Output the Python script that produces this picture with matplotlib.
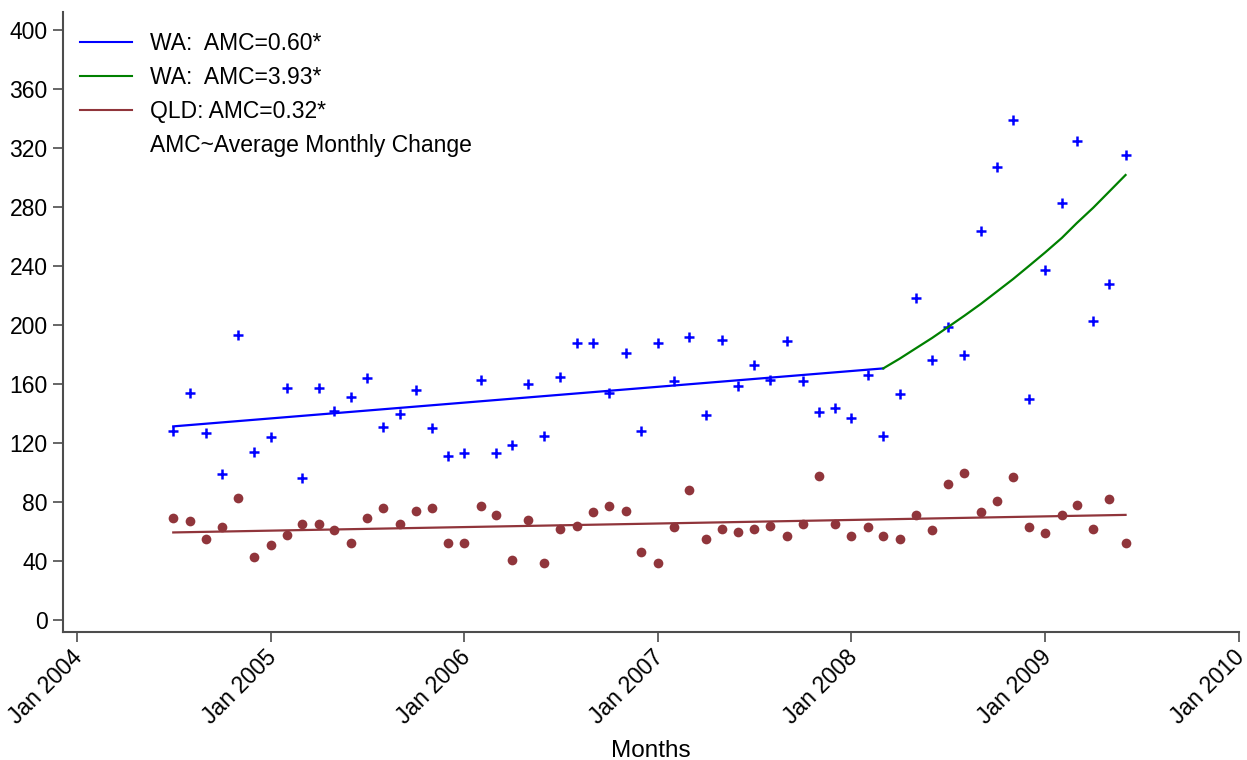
import pandas as pd
import matplotlib
matplotlib.use('Agg')
import matplotlib.pyplot as plt
import matplotlib.dates as mdates
import matplotlib.transforms as mtransforms
from matplotlib.lines import Line2D

plt.rcParams['font.family'] = ['Liberation Sans', 'DejaVu Sans']

# monthly observations, Jul 2004 - Jun 2009
months = pd.date_range('2004-07-01', periods=60, freq='MS')

wa = [128, 154, 127, 99, 193, 114, 124, 157, 96, 157,
      142, 151, 164, 131, 140, 156, 130, 111, 113, 163,
      113, 119, 160, 125, 165, 188, 188, 154, 181, 128,
      188, 162, 192, 139, 190, 159, 173, 163, 189, 162,
      141, 144, 137, 166, 125, 153, 218, 176, 199, 180,
      264, 307, 339, 150, 237, 283, 325, 203, 228, 315]

qld = [69, 67, 55, 63, 83, 43, 51, 58, 65, 65,
       61, 52, 69, 76, 65, 74, 76, 52, 52, 77,
       71, 41, 68, 39, 62, 64, 73, 77, 74, 46,
       39, 63, 88, 55, 62, 60, 62, 64, 57, 65,
       98, 65, 57, 63, 57, 55, 71, 61, 92, 100,
       73, 81, 97, 63, 59, 71, 78, 62, 82, 52]

# trend lines
wa_trend1_dates = pd.to_datetime(['2004-07-01', '2008-03-01'])
wa_trend1 = [131.3, 170.6]

wa_trend2_dates = pd.date_range('2008-03-01', '2009-06-01', freq='MS')
wa_trend2 = [170.6, 177.2, 184.1, 191.2, 198.6, 206.3, 214.3, 222.6,
             231.2, 240.1, 249.4, 259.1, 269.1, 279.5, 290.4, 301.7]

qld_trend_dates = pd.to_datetime(['2004-07-01', '2009-06-01'])
qld_trend = [59.4, 71.3]

legend_labels = ['WA:  AMC=0.60*', 'WA:  AMC=3.93*', 'QLD: AMC=0.32*',
                 'AMC~Average Monthly Change']

blue = '#0000ff'
green = '#008000'
brown = '#90353b'

fig = plt.figure(figsize=(12.47, 7.6), dpi=100)
ax = fig.add_axes([0.0505, 0.1684, 0.9431, 0.8158])

ax.plot(months, wa, linestyle='none', marker='+', color=blue,
        markersize=6.5, markeredgewidth=1.8)
ax.plot(months, qld, linestyle='none', marker='o', color=brown,
        markersize=7, markeredgewidth=0)
ax.plot(wa_trend1_dates, wa_trend1, color=blue, lw=1.6)
ax.plot(wa_trend2_dates, wa_trend2, color=green, lw=1.6)
ax.plot(qld_trend_dates, qld_trend, color=brown, lw=1.6)

ax.set_xlim(pd.Timestamp('2003-12-06'), pd.Timestamp('2010-01-01'))
ax.set_ylim(-8.1, 412.2)
ax.set_yticks(range(0, 401, 40))
ax.xaxis.set_major_locator(mdates.YearLocator())
ax.xaxis.set_major_formatter(mdates.DateFormatter('%b %Y'))

for s in ['top', 'right']:
    ax.spines[s].set_visible(False)
for s in ['left', 'bottom']:
    ax.spines[s].set_color('#4d4d4d')
    ax.spines[s].set_linewidth(1.5)
ax.tick_params(axis='both', labelsize=16.5, length=7, width=1.2, color='#4d4d4d')
ax.tick_params(axis='x', pad=3)
ax.tick_params(axis='y', pad=4)

# nudge rotated date labels a little to the left
shift = mtransforms.ScaledTranslation(-6 / 100, 0, fig.dpi_scale_trans)
for lab in ax.get_xticklabels():
    lab.set_rotation(45)
    lab.set_ha('right')
    lab.set_rotation_mode('anchor')
    lab.set_transform(lab.get_transform() + shift)

ax.set_xlabel('Months', fontsize=17.5, labelpad=8)

handles = [Line2D([], [], color=blue, lw=1.5),
           Line2D([], [], color=green, lw=1.5),
           Line2D([], [], color=brown, lw=1.5),
           Line2D([], [], color='none')]
ax.legend(handles, legend_labels, loc='upper left', frameon=False,
          fontsize=16.5, handlelength=2.27, handletextpad=0.8,
          labelspacing=0.48, bbox_to_anchor=(0.0, 0.995), borderaxespad=0.34)

fig.savefig('out.png', dpi=100)
